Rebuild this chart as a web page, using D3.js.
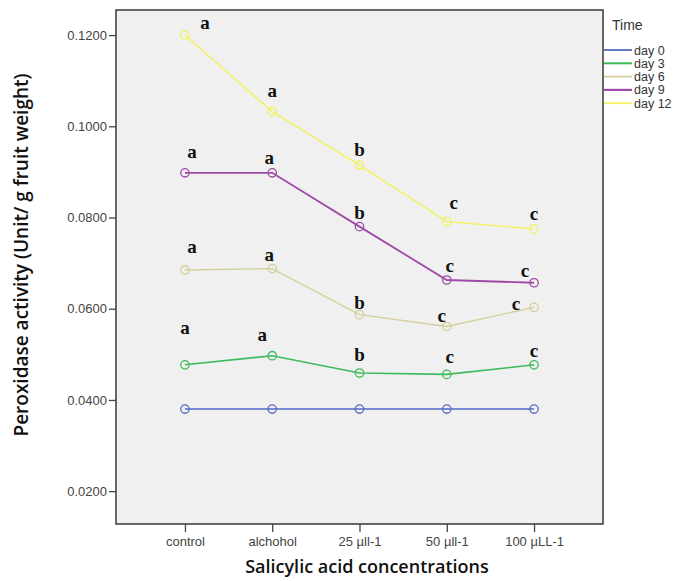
<!DOCTYPE html>
<html>
<head>
<meta charset="utf-8">
<script src="https://cdn.jsdelivr.net/npm/d3@7/dist/d3.min.js"></script>
<style>
  body { margin: 0; background: #fff; }
  svg { display: block; }
</style>
</head>
<body>
<svg id="chart" width="674" height="581"></svg>
<script>
// Treatments along the x axis
const categories = ["control", "alchohol", "25 µll-1", "50 µll-1", "100 µLL-1"];

// Storage time series
const seriesNames = ["day 0", "day 3", "day 6", "day 9", "day 12"];
const day0  = [0.0380, 0.0380, 0.0380, 0.0380, 0.0380];
const day3  = [0.0477, 0.0497, 0.0459, 0.0456, 0.0477];
const day6  = [0.0685, 0.0688, 0.0587, 0.0561, 0.0603];
const day9  = [0.0898, 0.0898, 0.0780, 0.0663, 0.0657];
const day12 = [0.1200, 0.1032, 0.0915, 0.0791, 0.0775];

// Significance letters for each series / treatment
const letters3  = ["a", "a", "b", "c", "c"];
const letters6  = ["a", "a", "b", "c", "c"];
const letters9  = ["a", "a", "b", "c", "c"];
const letters12 = ["a", "a", "b", "c", "c"];

const yTicks = [0.02, 0.04, 0.06, 0.08, 0.10, 0.12];

const colors = ["#5468c4", "#3dbb5a", "#d4cf9c", "#a04aa8", "#f4f15a"];
const widths = [1.4, 1.6, 1.4, 1.8, 1.4];

// Letter placement relative to each point [dx, dy]
const letterOffsets = [
  null,
  [[0, -31], [-10, -15], [0, -12], [3, -11], [0, -8]],
  [[7, -17], [-3, -8], [0, -6], [-5, -5], [-18, 3]],
  [[7, -15], [-3, -9], [0, -8], [3, -8], [-9, -6]],
  [[20, -6], [0, -15], [0, -9], [7, -13], [0, -9]]
];

const series = [day0, day3, day6, day9, day12];
const letterSets = [null, letters3, letters6, letters9, letters12];

const svg = d3.select("#chart");
const plot = { left: 116, right: 603, top: 10, bottom: 524 };

const x = d3.scalePoint()
  .domain(categories)
  .range([plot.left, plot.right])
  .padding(0.79);

const y = d3.scaleLinear()
  .domain([0.0128, 0.1255])
  .range([plot.bottom, plot.top]);

// Plot background
svg.append("rect")
  .attr("x", plot.left).attr("y", plot.top)
  .attr("width", plot.right - plot.left).attr("height", plot.bottom - plot.top)
  .attr("fill", "#f0f0f0");

// Y axis
const yAxis = svg.append("g")
  .attr("transform", `translate(${plot.left},0)`)
  .call(d3.axisLeft(y).tickValues(yTicks).tickFormat(d3.format(".4f")).tickSize(7).tickPadding(2));
yAxis.select(".domain").remove();
yAxis.selectAll(".tick line").attr("stroke", "#444").attr("stroke-width", 1.3);
yAxis.selectAll(".tick text")
  .attr("font-family", "Liberation Sans, Arial, sans-serif")
  .attr("font-size", 13).attr("fill", "#444");

// X axis
const xAxis = svg.append("g")
  .attr("transform", `translate(0,${plot.bottom})`)
  .call(d3.axisBottom(x).tickSize(8).tickPadding(5));
xAxis.select(".domain").remove();
xAxis.selectAll(".tick line").attr("stroke", "#444").attr("stroke-width", 1.3);
xAxis.selectAll(".tick text")
  .attr("font-family", "Liberation Sans, Arial, sans-serif")
  .attr("font-size", 13).attr("fill", "#444");

// Plot frame
svg.append("rect")
  .attr("x", plot.left).attr("y", plot.top)
  .attr("width", plot.right - plot.left).attr("height", plot.bottom - plot.top)
  .attr("fill", "none").attr("stroke", "#444").attr("stroke-width", 1.6);

// Lines and markers
const line = d3.line().x((d, i) => x(categories[i])).y(d => y(d));
series.forEach((vals, s) => {
  svg.append("path")
    .datum(vals)
    .attr("d", line)
    .attr("fill", "none")
    .attr("stroke", colors[s])
    .attr("stroke-width", widths[s]);
  svg.selectAll(null)
    .data(vals)
    .enter().append("circle")
    .attr("cx", (d, i) => x(categories[i]))
    .attr("cy", d => y(d))
    .attr("r", 4.2)
    .attr("fill", "none")
    .attr("stroke", colors[s])
    .attr("stroke-width", 1.3);
});

// Significance letters
series.forEach((vals, s) => {
  if (!letterSets[s]) return;
  svg.selectAll(null)
    .data(vals)
    .enter().append("text")
    .attr("x", (d, i) => x(categories[i]) + letterOffsets[s][i][0])
    .attr("y", (d, i) => y(d) + letterOffsets[s][i][1])
    .attr("text-anchor", "middle")
    .attr("font-family", "Liberation Serif, Times New Roman, serif")
    .attr("font-weight", "bold")
    .attr("font-size", 19)
    .attr("fill", "#111")
    .text((d, i) => letterSets[s][i]);
});

// Axis titles
svg.append("text")
  .attr("transform", `translate(28,255) rotate(-90)`)
  .attr("text-anchor", "middle")
  .attr("font-family", "Open Sans, sans-serif")
  .attr("font-weight", 600)
  .attr("font-size", 19)
  .attr("fill", "#111")
  .text("Peroxidase activity (Unit/ g fruit weight)");

svg.append("text")
  .attr("x", 367).attr("y", 573)
  .attr("text-anchor", "middle")
  .attr("font-family", "Open Sans, sans-serif")
  .attr("font-weight", 600)
  .attr("font-size", 18)
  .attr("fill", "#111")
  .text("Salicylic acid concentrations");

// Legend
const legend = svg.append("g");
legend.append("text")
  .attr("x", 612).attr("y", 30)
  .attr("font-family", "Liberation Sans, Arial, sans-serif")
  .attr("font-size", 14).attr("fill", "#333")
  .text("Time");
seriesNames.forEach((name, i) => {
  const ly = 50 + i * 13.3;
  legend.append("line")
    .attr("x1", 604).attr("x2", 632)
    .attr("y1", ly).attr("y2", ly)
    .attr("stroke", colors[i]).attr("stroke-width", widths[i] + 0.4);
  legend.append("text")
    .attr("x", 634).attr("y", ly + 4.5)
    .attr("font-family", "Liberation Sans, Arial, sans-serif")
    .attr("font-size", 12.5).attr("fill", "#333")
    .text(name);
});
</script>
</body>
</html>
